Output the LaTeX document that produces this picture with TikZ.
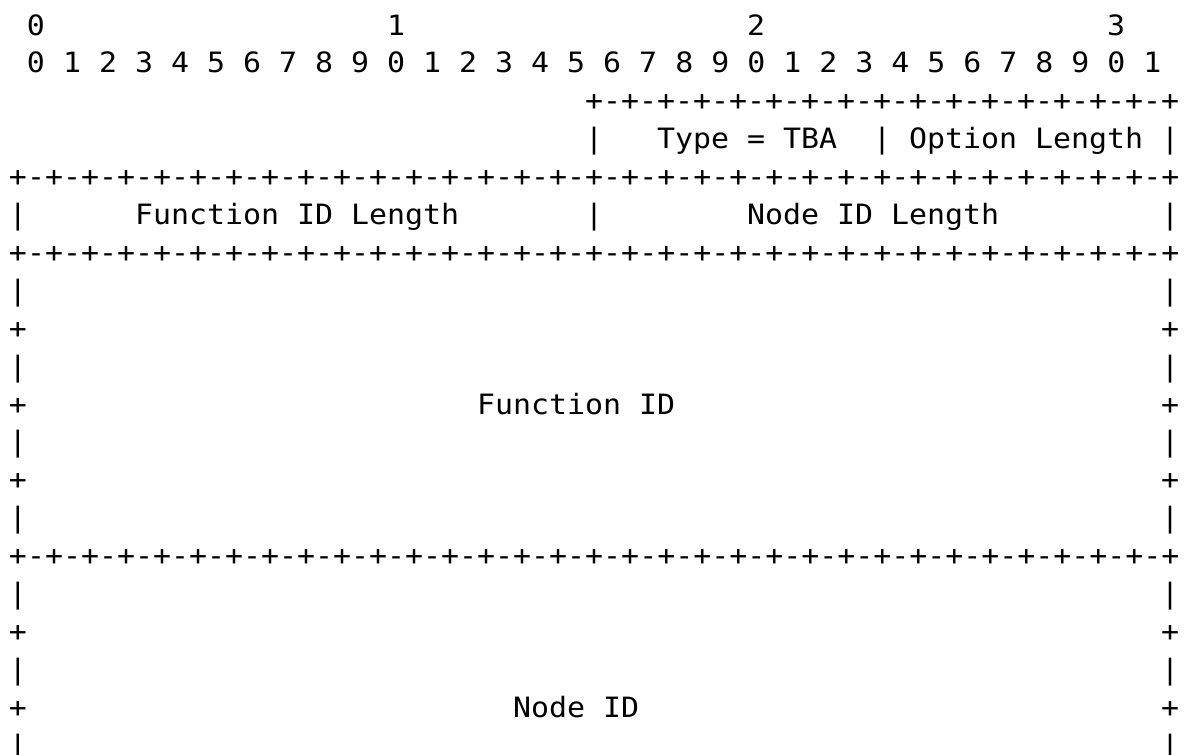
\documentclass[tikz,border=0pt]{standalone}
\usepackage{fontspec}
% slightly widened so that one glyph is 18pt wide at 28pt
\newfontfamily\asciimono[FakeStretch=1.0683]{DejaVu Sans Mono}
% a border row: n times "+-" closed by a final "+"
\ExplSyntaxOn
\cs_new:Npn \asciirule #1 { \prg_replicate:nn {#1} {+-} + }
\ExplSyntaxOff
\begin{document}
\begin{tikzpicture}[x=18pt, y=-37.9pt,
  cell/.style={anchor=base west, inner sep=0pt, outer sep=0pt,
    font=\asciimono\fontsize{28}{37.9}\selectfont, text=black}]
% one column is 18pt wide, one row is 37.9pt high; (0,0) is the baseline of row 0
\useasboundingbox (-9pt,35pt) rectangle (1175pt,-720pt);

% bit ruler
\node[cell] (tens0) at (1,0) {0};
\node[cell] (tens1) at (21,0) {1};
\node[cell] (tens2) at (41,0) {2};
\node[cell] (tens3) at (61,0) {3};
\node[cell] (units) at (1,1) {0 1 2 3 4 5 6 7 8 9 0 1 2 3 4 5 6 7 8 9 0 1 2 3 4 5 6 7 8 9 0 1};

% first word: type and option length
\node[cell] (top) at (32,2) {\asciirule{16}};
\node[cell] (typebar) at (32,3) {|};
\node[cell] (type) at (36,3) {Type = TBA};
\node[cell] (midbar) at (48,3) {|};
\node[cell] (optlen) at (50,3) {Option Length};
\node[cell] (endbar) at (64,3) {|};

% second word: lengths
\node[cell] (rule1) at (0,4) {\asciirule{32}};
\node[cell] (lenbarl) at (0,5) {|};
\node[cell] (funclen) at (7,5) {Function ID Length};
\node[cell] (lenbarm) at (32,5) {|};
\node[cell] (nodelen) at (41,5) {Node ID Length};
\node[cell] (lenbarr) at (64,5) {|};
\node[cell] (rule2) at (0,6) {\asciirule{32}};

% Function ID block
\foreach \r/\c in {7/|,8/+,9/|,10/+,11/|,12/+,13/|} {
  \node[cell] (fl\r) at (0,\r) {\c};
  \node[cell] (fr\r) at (64,\r) {\c};
}
\node[cell] (funcid) at (26,10) {Function ID};
\node[cell] (rule3) at (0,14) {\asciirule{32}};

% Node ID block
\foreach \r/\c in {15/|,16/+,17/|,18/+,19/|} {
  \node[cell] (nl\r) at (0,\r) {\c};
  \node[cell] (nr\r) at (64,\r) {\c};
}
\node[cell] (nodeid) at (28,18) {Node ID};
\end{tikzpicture}
\end{document}
